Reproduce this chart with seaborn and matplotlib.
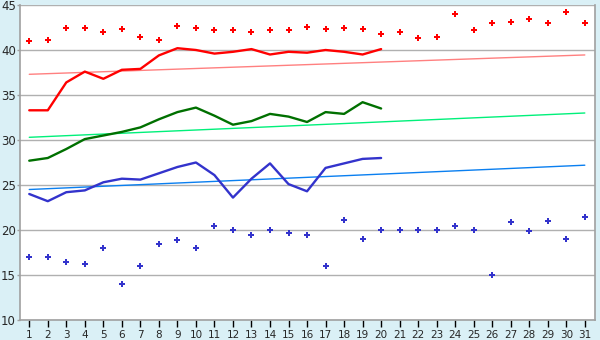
import matplotlib
matplotlib.use("Agg")
import matplotlib.pyplot as plt
import seaborn as sns
import pandas as pd

days = list(range(1, 32))
days_so_far = list(range(1, 21))

record_high = [41.0, 41.1, 42.4, 42.4, 42.0, 42.3, 41.5, 41.1, 42.7, 42.5,
               42.2, 42.2, 42.0, 42.2, 42.2, 42.6, 42.3, 42.4, 42.3, 41.8,
               42.0, 41.3, 41.4, 44.0, 42.2, 43.0, 43.1, 43.5, 43.0, 44.2, 43.0]
record_low = [17.0, 17.0, 16.4, 16.2, 18.0, 14.0, 16.0, 18.5, 18.9, 18.0,
              20.4, 20.0, 19.5, 20.0, 19.7, 19.5, 16.0, 21.1, 19.0, 20.0,
              20.0, 20.0, 20.0, 20.5, 20.0, 15.0, 20.9, 19.9, 21.0, 19.0, 21.4]

high_line = [33.3, 33.3, 36.4, 37.6, 36.8, 37.8, 37.9, 39.4, 40.2, 40.0,
             39.6, 39.8, 40.1, 39.5, 39.8, 39.7, 40.0, 39.8, 39.5, 40.1]
mean_line = [27.7, 28.0, 29.0, 30.1, 30.5, 30.9, 31.4, 32.3, 33.1, 33.6,
             32.7, 31.7, 32.1, 32.9, 32.6, 32.0, 33.1, 32.9, 34.2, 33.5]
low_line = [24.0, 23.2, 24.2, 24.4, 25.3, 25.7, 25.6, 26.3, 27.0, 27.5,
            26.1, 23.6, 25.7, 27.4, 25.1, 24.3, 26.9, 27.4, 27.9, 28.0]

trend_days = [1, 31]
high_trend = [37.3, 39.45]
mean_trend = [30.3, 33.0]
low_trend = [24.5, 27.2]

y_ticks = [10, 15, 20, 25, 30, 35, 40, 45]

sns.set_style("white")
plt.rcParams['font.family'] = ['DejaVu Sans']

bg = '#daf0f6'
fig = plt.figure(figsize=(6, 3.4), dpi=100, facecolor=bg)
ax = fig.add_axes([20/600, 20/340, 575/600, 315/340])
ax.set_facecolor('white')

for yv in y_ticks:
    ax.axhline(yv, color='#b0b0b0', lw=1, zorder=0)

sns.lineplot(x=trend_days, y=high_trend, color='#ff8080', lw=1, ax=ax)
sns.lineplot(x=trend_days, y=mean_trend, color='#00f07a', lw=1, ax=ax)
sns.lineplot(x=trend_days, y=low_trend, color='#0a7ff0', lw=1, ax=ax)

sns.lineplot(x=days_so_far, y=high_line, color='#ff0000', lw=1.7, ax=ax)
sns.lineplot(x=days_so_far, y=mean_line, color='#007000', lw=1.7, ax=ax)
sns.lineplot(x=days_so_far, y=low_line, color='#3333cc', lw=1.7, ax=ax)

sns.scatterplot(x=days, y=record_high, color='#ff0000', marker='P', s=17,
                linewidth=0, ax=ax)
sns.scatterplot(x=days, y=record_low, color='#3333cc', marker='P', s=17,
                linewidth=0, ax=ax)

ax.set_xlim(0.5, 31.55)
ax.set_ylim(10, 45)
ax.set_xticks(days)
ax.set_xticklabels([str(d) for d in days])
ax.set_yticks(y_ticks)
ax.set_yticklabels([str(v) for v in y_ticks])
ax.tick_params(axis='x', direction='out', length=5, width=1, color='#000000',
               labelsize=7.5, pad=2, bottom=True)
ax.tick_params(axis='y', direction='out', length=2, width=1, color='#a0a0a0',
               labelsize=8.5, pad=1, left=True)
for side in ['left', 'bottom', 'right']:
    ax.spines[side].set_visible(True)
    ax.spines[side].set_color('#a0a0a0')
    ax.spines[side].set_linewidth(1.2)
ax.spines['top'].set_visible(False)
ax.set_xlabel('')
ax.set_ylabel('')

fig.savefig('out.png', dpi=100, facecolor=bg)
